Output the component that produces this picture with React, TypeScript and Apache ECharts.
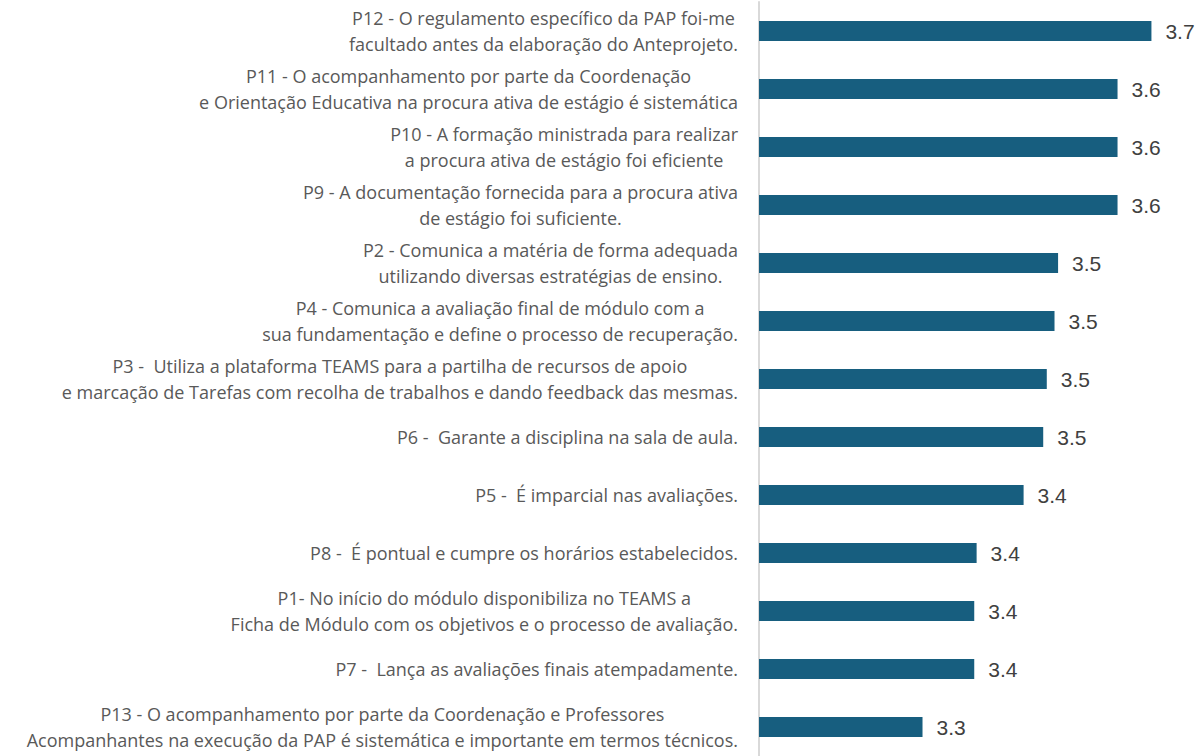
import React, { useEffect, useRef } from "react";
import * as echarts from "echarts";

const labelLines: string[][] = [
  ["P12 - O regulamento específico da PAP foi-me", "facultado antes da elaboração do Anteprojeto."],
  ["P11 - O acompanhamento por parte da Coordenação", "e Orientação Educativa na procura ativa de estágio é sistemática"],
  ["P10 - A formação ministrada para realizar", "a procura ativa de estágio foi eficiente"],
  ["P9 - A documentação fornecida para a procura ativa", "de estágio foi suficiente."],
  ["P2 - Comunica a matéria de forma adequada", "utilizando diversas estratégias de ensino."],
  ["P4 - Comunica a avaliação final de módulo com a", "sua fundamentação e define o processo de recuperação."],
  ["P3 -  Utiliza a plataforma TEAMS para a partilha de recursos de apoio", "e marcação de Tarefas com recolha de trabalhos e dando feedback das mesmas."],
  ["P6 -  Garante a disciplina na sala de aula."],
  ["P5 -  É imparcial nas avaliações."],
  ["P8 -  É pontual e cumpre os horários estabelecidos."],
  ["P1- No início do módulo disponibiliza no TEAMS a", "Ficha de Módulo com os objetivos e o processo de avaliação."],
  ["P7 -  Lança as avaliações finais atempadamente."],
  ["P13 - O acompanhamento por parte da Coordenação e Professores", "Acompanhantes na execução da PAP é sistemática e importante em termos técnicos."],
];

const categories: string[] = labelLines.map((l) => l.join("\n"));

const values: number[] = [3.66, 3.603, 3.603, 3.603, 3.503, 3.497, 3.484, 3.478, 3.445, 3.366, 3.362, 3.362, 3.275];

const xMin = 3;
const xMax = 3.74;

export default function App() {
  const ref = useRef<HTMLDivElement>(null);
  useEffect(() => {
    if (!ref.current) return;
    const chart = echarts.init(ref.current, undefined, { renderer: "svg" });
    chart.setOption({
      animation: false,
      backgroundColor: "#ffffff",
      grid: { left: 759, right: 5, top: 2, height: 757, containLabel: false },
      xAxis: {
        type: "value",
        min: xMin,
        max: xMax,
        show: false,
        splitLine: { show: false },
      },
      yAxis: {
        type: "category",
        inverse: true,
        data: categories,
        axisLine: { show: true, lineStyle: { color: "#d9d9d9", width: 2 } },
        axisTick: { show: false },
        axisLabel: {
          margin: 21,
          formatter: (v: string) => v.split("\n").map((l) => `{c|${l}}`).join("\n"),
          rich: {
            c: {
              align: "center",
              fontFamily: "Open Sans",
              fontSize: 18,
              lineHeight: 26,
              color: "#595959",
            },
          },
        },
      },
      series: [
        {
          type: "bar",
          data: values,
          barWidth: 20,
          itemStyle: { color: "#175e7f" },
          label: {
            show: true,
            position: "right",
            distance: 14,
            formatter: (p: any) => Number(p.value).toFixed(1),
            fontFamily: "Liberation Sans",
            fontSize: 21,
            color: "#404040",
          },
        },
      ],
    });
    return () => chart.dispose();
  }, []);
  return (
    <div
      ref={ref}
      style={{ position: "absolute", left: 0, top: 0, width: 1204, height: 756 }}
    />
  );
}
